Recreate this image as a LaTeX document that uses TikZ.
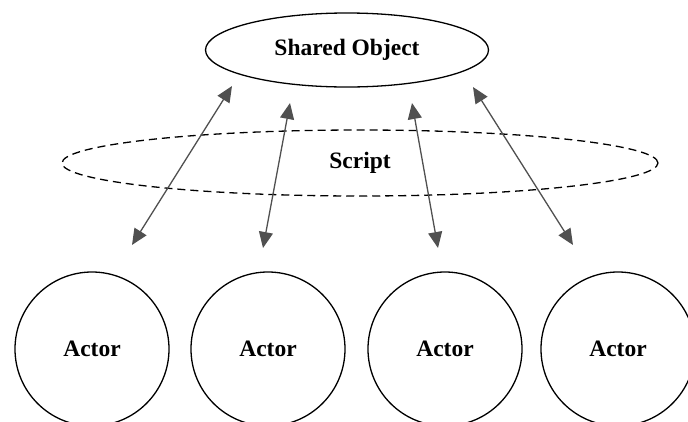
\documentclass[tikz,border=0pt]{standalone}
\usepackage{fontspec}
\setmainfont{Liberation Serif}
\usetikzlibrary{arrows.meta,shapes.geometric}
\definecolor{arrowgray}{HTML}{505050}
\begin{document}
\begin{tikzpicture}[x=1pt,y=-1pt,
  lbl/.style={font=\bfseries\fontsize{23.5}{26}\selectfont},
  actor/.style={circle,draw,line width=1.3pt,minimum size=154pt,inner sep=0pt,lbl},
  link/.style={draw=arrowgray,line width=1.3pt,{Triangle[length=16pt,width=14pt,fill=arrowgray]}-{Triangle[length=16pt,width=14pt,fill=arrowgray]}}]
\useasboundingbox (0,0) rectangle (688,421);
\clip (0,0) rectangle (688,421);
\node[ellipse,draw,line width=1.3pt,minimum width=283pt,minimum height=74pt,inner sep=0pt,lbl] (shared) at (347,50) {Shared Object};
\node[ellipse,draw,dashed,dash pattern=on 8pt off 5pt,line width=1.3pt,minimum width=596pt,minimum height=66pt,inner sep=0pt,lbl] (script) at (360,163) {Script};
\node[actor] (a1) at (92,349) {Actor};
\node[actor] (a2) at (268,349) {Actor};
\node[actor] (a3) at (445,349) {Actor};
\node[actor] (a4) at (618,349) {Actor};
\coordinate (t1) at (232,86);
\coordinate (b1) at (132,245);
\coordinate (t2) at (290,103);
\coordinate (b2) at (263,248);
\coordinate (t3) at (412,103);
\coordinate (b3) at (438,248);
\coordinate (t4) at (473,87);
\coordinate (b4) at (573,245);
\draw[link] (t1) -- (b1);
\draw[link] (t2) -- (b2);
\draw[link] (t3) -- (b3);
\draw[link] (t4) -- (b4);
\end{tikzpicture}
\end{document}
